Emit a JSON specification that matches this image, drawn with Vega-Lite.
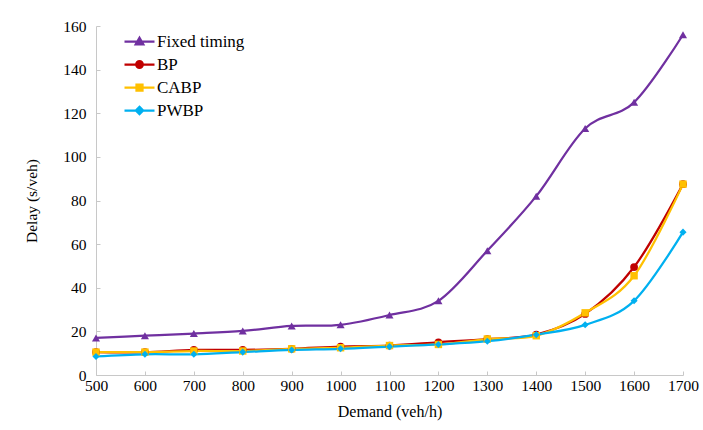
{
  "$schema": "https://vega.github.io/schema/vega-lite/v6.json",
  "autosize": "none",
  "width": 587,
  "height": 349,
  "padding": {"left": 96, "top": 26, "right": 20, "bottom": 55},
  "background": "white",
  "config": {
    "font": "Liberation Serif",
    "view": {"stroke": null},
    "axis": {"labelFont": "Liberation Serif", "titleFont": "Liberation Serif", "labelColor": "black", "titleColor": "black", "labelFontSize": 15.5, "titleFontSize": 15.5, "titleFontWeight": "normal", "domainColor": "#c8c8c8", "tickColor": "#c8c8c8", "grid": false}
  },
  "data": {"values": [
    {"series": "Fixed timing", "demand": 500, "delay": 17},
    {"series": "Fixed timing", "demand": 600, "delay": 18},
    {"series": "Fixed timing", "demand": 700, "delay": 19},
    {"series": "Fixed timing", "demand": 800, "delay": 20.2},
    {"series": "Fixed timing", "demand": 900, "delay": 22.5},
    {"series": "Fixed timing", "demand": 1000, "delay": 23},
    {"series": "Fixed timing", "demand": 1100, "delay": 27.5},
    {"series": "Fixed timing", "demand": 1200, "delay": 34},
    {"series": "Fixed timing", "demand": 1300, "delay": 57},
    {"series": "Fixed timing", "demand": 1400, "delay": 82},
    {"series": "Fixed timing", "demand": 1500, "delay": 113},
    {"series": "Fixed timing", "demand": 1600, "delay": 125},
    {"series": "Fixed timing", "demand": 1700, "delay": 156},
    {"series": "BP", "demand": 500, "delay": 10.5},
    {"series": "BP", "demand": 600, "delay": 10.5},
    {"series": "BP", "demand": 700, "delay": 11.5},
    {"series": "BP", "demand": 800, "delay": 11.5},
    {"series": "BP", "demand": 900, "delay": 12},
    {"series": "BP", "demand": 1000, "delay": 13},
    {"series": "BP", "demand": 1100, "delay": 13.5},
    {"series": "BP", "demand": 1200, "delay": 15},
    {"series": "BP", "demand": 1300, "delay": 16.5},
    {"series": "BP", "demand": 1400, "delay": 18.5},
    {"series": "BP", "demand": 1500, "delay": 28},
    {"series": "BP", "demand": 1600, "delay": 49.5},
    {"series": "BP", "demand": 1700, "delay": 87.5},
    {"series": "CABP", "demand": 500, "delay": 10.5},
    {"series": "CABP", "demand": 600, "delay": 10.5},
    {"series": "CABP", "demand": 700, "delay": 11},
    {"series": "CABP", "demand": 800, "delay": 11},
    {"series": "CABP", "demand": 900, "delay": 12},
    {"series": "CABP", "demand": 1000, "delay": 12.5},
    {"series": "CABP", "demand": 1100, "delay": 13.5},
    {"series": "CABP", "demand": 1200, "delay": 14},
    {"series": "CABP", "demand": 1300, "delay": 16.5},
    {"series": "CABP", "demand": 1400, "delay": 18},
    {"series": "CABP", "demand": 1500, "delay": 28.5},
    {"series": "CABP", "demand": 1600, "delay": 45.5},
    {"series": "CABP", "demand": 1700, "delay": 87.5},
    {"series": "PWBP", "demand": 500, "delay": 8.5},
    {"series": "PWBP", "demand": 600, "delay": 9.5},
    {"series": "PWBP", "demand": 700, "delay": 9.5},
    {"series": "PWBP", "demand": 800, "delay": 10.5},
    {"series": "PWBP", "demand": 900, "delay": 11.5},
    {"series": "PWBP", "demand": 1000, "delay": 12},
    {"series": "PWBP", "demand": 1100, "delay": 13},
    {"series": "PWBP", "demand": 1200, "delay": 14},
    {"series": "PWBP", "demand": 1300, "delay": 15.5},
    {"series": "PWBP", "demand": 1400, "delay": 18.5},
    {"series": "PWBP", "demand": 1500, "delay": 23},
    {"series": "PWBP", "demand": 1600, "delay": 34},
    {"series": "PWBP", "demand": 1700, "delay": 65.5}
  ]},
  "encoding": {
    "x": {"field": "demand", "type": "quantitative", "title": "Demand (veh/h)",
      "scale": {"domain": [500, 1700], "nice": false, "zero": false},
      "axis": {"values": [500, 600, 700, 800, 900, 1000, 1100, 1200, 1300, 1400, 1500, 1600, 1700], "format": "d", "tickSize": -4, "labelPadding": 7, "titlePadding": 10, "titleFontSize": 16, "labelFlush": false}},
    "y": {"field": "delay", "type": "quantitative", "title": "Delay (s/veh)",
      "scale": {"domain": [0, 160], "nice": false},
      "axis": {"values": [0, 20, 40, 60, 80, 100, 120, 140, 160], "tickSize": -4, "labelPadding": 14, "titlePadding": 23}},
    "color": {"field": "series", "type": "nominal",
      "scale": {"domain": ["Fixed timing", "BP", "CABP", "PWBP"], "range": ["#7030A0", "#C00000", "#FFC000", "#00B0F0"]},
      "legend": {"title": null, "orient": "none", "legendX": 32, "legendY": 4, "padding": 0,
        "symbolSize": 400, "labelOffset": 6, "rowPadding": 3,
        "labelFont": "Liberation Serif", "labelFontSize": 17, "labelColor": "black",
        "encoding": {"symbols": {
          "shape": {"value": {"expr": "datum.value === 'Fixed timing' ? 'M-1.5,0H1.5M0,-0.38L0.38,0.28L-0.38,0.28Z' : datum.value === 'BP' ? 'M-1.5,0H1.5M-0.33,0A0.33,0.33,0,1,1,0.33,0A0.33,0.33,0,1,1,-0.33,0Z' : datum.value === 'CABP' ? 'M-1.5,0H1.5M-0.3,-0.3H0.3V0.3H-0.3Z' : 'M-1.5,0H1.5M0,-0.36L0.36,0L0,0.36L-0.36,0Z'"}},
          "stroke": {"value": {"expr": "scale('color', datum.value)"}},
          "fill": {"value": {"expr": "scale('color', datum.value)"}},
          "strokeWidth": {"value": 2.25},
          "opacity": {"value": 1}
        }}}}
  },
  "layer": [
    {"mark": {"type": "line", "interpolate": "cardinal", "strokeWidth": 2.25}, "encoding": {"order": {"field": "demand"}}},
    {"transform": [{"filter": "datum.series === 'Fixed timing'"}],
     "mark": {"type": "point", "filled": true, "opacity": 1, "size": 65, "shape": "triangle-up"}},
    {"transform": [{"filter": "datum.series === 'BP'"}],
     "mark": {"type": "point", "filled": true, "opacity": 1, "size": 60, "shape": "circle"}},
    {"transform": [{"filter": "datum.series === 'CABP'"}],
     "mark": {"type": "point", "filled": true, "opacity": 1, "size": 55, "shape": "square"}},
    {"transform": [{"filter": "datum.series === 'PWBP'"}],
     "mark": {"type": "point", "filled": true, "opacity": 1, "size": 50, "shape": "diamond"}}
  ]
}
